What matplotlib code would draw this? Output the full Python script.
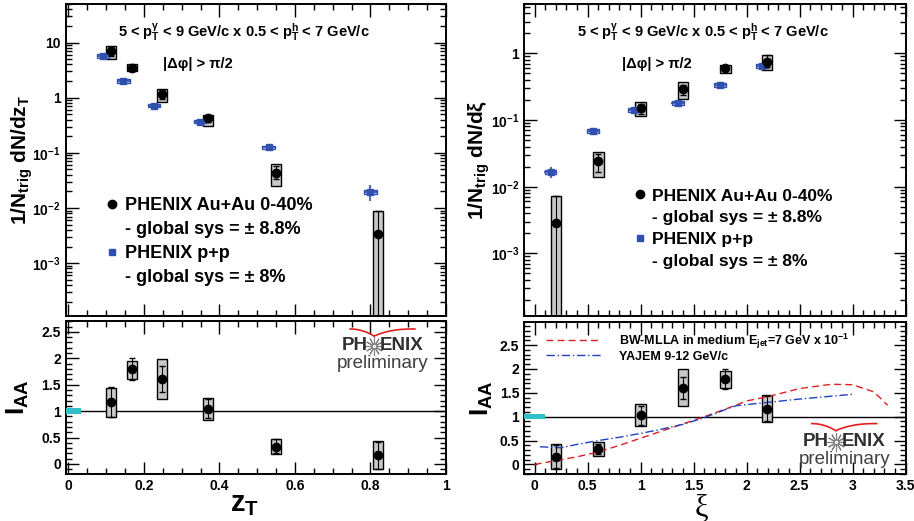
import numpy as np
import matplotlib
matplotlib.use("Agg")
import matplotlib.pyplot as plt
from matplotlib.ticker import MultipleLocator, FuncFormatter, LogLocator, NullFormatter
from matplotlib.lines import Line2D

plt.rcParams['font.family'] = ['Liberation Sans', 'DejaVu Sans']
plt.rcParams['mathtext.fontset'] = 'custom'
plt.rcParams['mathtext.rm'] = 'Liberation Sans'
plt.rcParams['mathtext.it'] = 'Liberation Sans'
plt.rcParams['mathtext.bf'] = 'Liberation Sans:bold'
plt.rcParams['mathtext.default'] = 'regular'

# ---- zT panel data ----
zt_au = np.array([0.114, 0.168, 0.249, 0.370, 0.550, 0.819])
dn_au = np.array([6.9, 3.5, 1.17, 0.42, 0.044, 0.0034])
dn_au_stat_lo = np.array([5.6, 3.1, 0.95, 0.36, 0.033, 1e-6])
dn_au_stat_hi = np.array([8.3, 3.9, 1.40, 0.47, 0.058, 0.0089])
dn_au_sys_lo = np.array([5.0, 3.05, 0.82, 0.31, 0.025, 1e-6])
dn_au_sys_hi = np.array([8.5, 4.05, 1.46, 0.48, 0.062, 0.0089])

zt_pp = np.array([0.092, 0.146, 0.228, 0.349, 0.530, 0.800])
dn_pp = np.array([5.7, 2.0, 0.72, 0.37, 0.125, 0.0195])
dn_pp_lo = np.array([5.3, 1.88, 0.67, 0.345, 0.117, 0.0133])
dn_pp_hi = np.array([6.1, 2.12, 0.77, 0.395, 0.134, 0.026])

iaa_zt = np.array([1.17, 1.80, 1.61, 1.04, 0.33, 0.17])
iaa_zt_stat_lo = np.array([0.88, 1.58, 1.37, 0.87, 0.21, -0.09])
iaa_zt_stat_hi = np.array([1.46, 2.00, 1.85, 1.22, 0.47, 0.42])
iaa_zt_sys_lo = np.array([0.89, 1.61, 1.22, 0.83, 0.19, -0.09])
iaa_zt_sys_hi = np.array([1.44, 1.95, 1.98, 1.25, 0.48, 0.43])

# ---- xi panel data ----
xi_au = np.array([0.2, 0.6, 1.0, 1.4, 1.8, 2.19])
dn_xi_au = np.array([0.0029, 0.024, 0.15, 0.29, 0.60, 0.75])
dn_xi_au_stat_lo = np.array([1e-6, 0.0165, 0.125, 0.24, 0.55, 0.63])
dn_xi_au_stat_hi = np.array([0.0073, 0.031, 0.175, 0.34, 0.65, 0.96])
dn_xi_au_sys_lo = np.array([1e-6, 0.014, 0.115, 0.21, 0.51, 0.56])
dn_xi_au_sys_hi = np.array([0.0073, 0.0335, 0.186, 0.37, 0.67, 0.94])

xi_pp = np.array([0.15, 0.55, 0.94, 1.35, 1.75, 2.145])
dn_xi_pp = np.array([0.0165, 0.069, 0.14, 0.18, 0.335, 0.64])
dn_xi_pp_lo = np.array([0.0135, 0.064, 0.13, 0.168, 0.315, 0.60])
dn_xi_pp_hi = np.array([0.0195, 0.074, 0.15, 0.193, 0.355, 0.68])

iaa_xi = np.array([0.16, 0.33, 1.03, 1.61, 1.79, 1.17])
iaa_xi_stat_lo = np.array([-0.08, 0.22, 0.83, 1.37, 1.57, 0.91])
iaa_xi_stat_hi = np.array([0.40, 0.43, 1.23, 1.84, 2.00, 1.43])
iaa_xi_sys_lo = np.array([-0.10, 0.18, 0.81, 1.22, 1.61, 0.88])
iaa_xi_sys_hi = np.array([0.43, 0.46, 1.26, 1.99, 1.96, 1.45])

bw_xi = np.array([0.0, 0.2, 0.4, 0.6, 0.8, 1.0, 1.2, 1.4, 1.6, 1.8, 2.0, 2.2, 2.5, 2.8, 3.0, 3.2, 3.33])
bw_iaa = np.array([0.0, 0.08, 0.16, 0.26, 0.40, 0.55, 0.70, 0.85, 1.0, 1.16, 1.33, 1.42, 1.59, 1.68, 1.67, 1.52, 1.24])
yajem_xi = np.array([0.05, 0.25, 0.4, 0.6, 0.8, 1.0, 1.2, 1.4, 1.6, 1.8, 1.9, 2.2, 2.5, 2.8, 3.0])
yajem_iaa = np.array([0.37, 0.35, 0.42, 0.50, 0.57, 0.65, 0.74, 0.84, 0.98, 1.15, 1.23, 1.30, 1.37, 1.43, 1.47])

title_txt = r'5 < p$_T^{\gamma}$ < 9 GeV/c x 0.5 < p$_T^h$ < 7 GeV/c'
dphi_txt = '|Δφ| > π/2'
au_lbl = 'PHENIX Au+Au 0-40%'
au_sys = '- global sys = ± 8.8%'
pp_lbl = 'PHENIX p+p'
pp_sys = '- global sys = ± 8%'

gray = '#c8c8c8'
blue = '#3050b0'
lblue = '#c0cdf0'
cyan = '#30c0c8'

fig = plt.figure(figsize=(9.14, 5.21), dpi=100)
W, H = 914, 521


def add_ax(x0, x1, y0, y1):
    return fig.add_axes([x0 / W, 1 - y1 / H, (x1 - x0) / W, (y1 - y0) / H])


ax1 = add_ax(65.7, 446, 4, 316)
ax2 = add_ax(65.7, 446, 320.7, 474)
ax3 = add_ax(524, 905.7, 4, 316)
ax4 = add_ax(524, 905.7, 321.7, 474)


def style(ax):
    ax.tick_params(which='both', direction='in', top=True, right=True, labelsize=10)
    ax.tick_params(which='major', length=9, width=1)
    ax.tick_params(which='minor', length=4.5, width=1)
    for s in ax.spines.values():
        s.set_linewidth(1.4)
    for lab in ax.get_xticklabels() + ax.get_yticklabels():
        lab.set_fontweight('bold')


def logfmt(v, pos):
    e = int(round(np.log10(v)))
    if e == 1:
        return '10'
    if e == 0:
        return '1'
    return r'$\mathbf{10^{%d}}$' % e


def sysbox(ax, x, lo, hi, hw):
    ax.bar(x, hi - lo, bottom=lo, width=2 * hw, color=gray, edgecolor='black', linewidth=1, zorder=2)


def ppbox(ax, x, lo, hi, hw):
    ax.bar(x, hi - lo, bottom=lo, width=2 * hw, color=lblue, edgecolor=blue, linewidth=1, zorder=3)


# ---- top left ----
ax1.set_yscale('log')
sysbox(ax1, zt_au, dn_au_sys_lo, dn_au_sys_hi, 0.013)
ppbox(ax1, zt_pp, dn_pp * 0.93, dn_pp * 1.07, 0.016)
ax1.errorbar(zt_pp, dn_pp, yerr=[dn_pp - dn_pp_lo, dn_pp_hi - dn_pp], xerr=0.016, fmt='s',
             color=blue, ms=4.5, capsize=0, elinewidth=1.2, zorder=4)
ax1.errorbar(zt_au, dn_au, yerr=[dn_au - dn_au_stat_lo, dn_au_stat_hi - dn_au], fmt='o',
             color='black', ms=6, capsize=2, elinewidth=0.8, zorder=5)
ax1.set_xlim(-0.007, 1.0)
ax1.set_ylim(1.1e-4, 50)
ax1.xaxis.set_major_locator(MultipleLocator(0.2))
ax1.xaxis.set_minor_locator(MultipleLocator(0.05))
ax1.xaxis.set_major_formatter(NullFormatter())
ax1.yaxis.set_major_locator(LogLocator(base=10, numticks=10))
ax1.yaxis.set_minor_locator(LogLocator(base=10, subs=np.arange(2, 10), numticks=10))
ax1.yaxis.set_major_formatter(FuncFormatter(logfmt))
ax1.yaxis.set_minor_formatter(NullFormatter())
ax1.set_ylabel(r'1/N$_{trig}$ dN/dz$_T$', fontsize=15, fontweight='bold')
ax1.yaxis.set_label_coords(-0.082, 0.5)
ax1.text(0.468, 0.909, title_txt, transform=ax1.transAxes, ha='center', va='center',
         fontsize=10.5, fontweight='bold')
ax1.text(0.347, 0.808, dphi_txt, transform=ax1.transAxes, ha='center', va='center',
         fontsize=10.5, fontweight='bold')
h_au = Line2D([], [], marker='o', color='black', ls='none', ms=6)
h_pp = Line2D([], [], marker='s', color=blue, ls='none', ms=5)
h_blank = Line2D([], [], ls='none')
ax1.legend([h_au, h_blank, h_pp, h_blank], [au_lbl, au_sys, pp_lbl, pp_sys], loc='upper left',
           bbox_to_anchor=(0.099, 0.38), frameon=False, borderpad=0, borderaxespad=0,
           handlelength=1, handletextpad=0.2, labelspacing=0.38,
           prop={'size': 13, 'weight': 'bold'})
style(ax1)

# ---- bottom left ----
sysbox(ax2, zt_au, iaa_zt_sys_lo, iaa_zt_sys_hi, 0.013)
ax2.errorbar(zt_au, iaa_zt, yerr=[iaa_zt - iaa_zt_stat_lo, iaa_zt_stat_hi - iaa_zt], fmt='o',
             color='black', ms=6, capsize=2, elinewidth=0.8, zorder=5)
ax2.axhline(1, color='black', lw=1, zorder=1)
ax2.bar(0.0135, 0.11, bottom=0.945, width=0.041, color=cyan, zorder=3)
ax2.set_xlim(-0.007, 1.0)
ax2.set_ylim(-0.19, 2.71)
ax2.xaxis.set_major_locator(MultipleLocator(0.2))
ax2.xaxis.set_minor_locator(MultipleLocator(0.05))
ax2.xaxis.set_major_formatter(FuncFormatter(lambda v, p: '%g' % round(v, 2)))
ax2.yaxis.set_major_locator(MultipleLocator(0.5))
ax2.yaxis.set_minor_locator(MultipleLocator(0.1))
ax2.yaxis.set_major_formatter(FuncFormatter(lambda v, p: '%g' % v))
ax2.set_xlabel(r'z$_T$', fontsize=21, fontweight='bold')
ax2.xaxis.set_label_coords(0.47, -0.105)
ax2.set_ylabel(r'I$_{AA}$', fontsize=19, fontweight='bold')
ax2.yaxis.set_label_coords(-0.092, 0.5)
style(ax2)

# ---- top right ----
ax3.set_yscale('log')
sysbox(ax3, xi_au, dn_xi_au_sys_lo, dn_xi_au_sys_hi, 0.05)
ppbox(ax3, xi_pp, dn_xi_pp * 0.93, dn_xi_pp * 1.07, 0.055)
ax3.errorbar(xi_pp, dn_xi_pp, yerr=[dn_xi_pp - dn_xi_pp_lo, dn_xi_pp_hi - dn_xi_pp], xerr=0.06,
             fmt='s', color=blue, ms=4.5, capsize=0, elinewidth=1.2, zorder=4)
ax3.errorbar(xi_au, dn_xi_au, yerr=[dn_xi_au - dn_xi_au_stat_lo, dn_xi_au_stat_hi - dn_xi_au],
             fmt='o', color='black', ms=6, capsize=2, elinewidth=0.8, zorder=5)
ax3.set_xlim(-0.1, 3.5)
ax3.set_ylim(1.15e-4, 5.5)
ax3.xaxis.set_major_locator(MultipleLocator(0.5))
ax3.xaxis.set_minor_locator(MultipleLocator(0.1))
ax3.xaxis.set_major_formatter(NullFormatter())
ax3.yaxis.set_major_locator(LogLocator(base=10, numticks=10))
ax3.yaxis.set_minor_locator(LogLocator(base=10, subs=np.arange(2, 10), numticks=10))
ax3.yaxis.set_major_formatter(FuncFormatter(logfmt))
ax3.yaxis.set_minor_formatter(NullFormatter())
ax3.set_ylabel(r'1/N$_{trig}$ dN/dξ', fontsize=15, fontweight='bold')
ax3.yaxis.set_label_coords(-0.084, 0.5)
ax3.text(0.469, 0.909, title_txt, transform=ax3.transAxes, ha='center', va='center',
         fontsize=10.5, fontweight='bold')
ax3.text(0.348, 0.808, dphi_txt, transform=ax3.transAxes, ha='center', va='center',
         fontsize=10.5, fontweight='bold')
ax3.legend([h_au, h_blank, h_pp, h_blank], [au_lbl, au_sys, pp_lbl, pp_sys], loc='upper left',
           bbox_to_anchor=(0.281, 0.409), frameon=False, borderpad=0, borderaxespad=0,
           handlelength=1, handletextpad=0.2, labelspacing=0.38,
           prop={'size': 12.5, 'weight': 'bold'})
style(ax3)

# ---- bottom right ----
sysbox(ax4, xi_au, iaa_xi_sys_lo, iaa_xi_sys_hi, 0.05)
ax4.errorbar(xi_au, iaa_xi, yerr=[iaa_xi - iaa_xi_stat_lo, iaa_xi_stat_hi - iaa_xi], fmt='o',
             color='black', ms=6, capsize=2, elinewidth=0.8, zorder=5)
ax4.axhline(1, color='black', lw=1, zorder=1)
ax4.bar(0.0, 0.11, bottom=0.945, width=0.2, color=cyan, zorder=3)
l_bw, = ax4.plot(bw_xi, bw_iaa, color='#e02020', ls=(0, (5, 3)), lw=1, zorder=4)
l_ya, = ax4.plot(yajem_xi, yajem_iaa, color='#2040c0', ls=(0, (6, 2, 1, 2)), lw=1, zorder=4)
ax4.legend([l_bw, l_ya], [r'BW-MLLA in medium E$_{jet}$=7 GeV x 10$^{-1}$', 'YAJEM 9-12 GeV/c'],
           loc='upper left', bbox_to_anchor=(0.057, 0.935), frameon=False, borderpad=0,
           borderaxespad=0, handlelength=4.4, handletextpad=1.45, labelspacing=0.0,
           prop={'size': 9, 'weight': 'bold'})
ax4.set_xlim(-0.1, 3.5)
ax4.set_ylim(-0.2, 2.99)
ax4.xaxis.set_major_locator(MultipleLocator(0.5))
ax4.xaxis.set_minor_locator(MultipleLocator(0.1))
ax4.xaxis.set_major_formatter(FuncFormatter(lambda v, p: '%g' % v))
ax4.yaxis.set_major_locator(MultipleLocator(0.5))
ax4.yaxis.set_minor_locator(MultipleLocator(0.1))
ax4.yaxis.set_major_formatter(FuncFormatter(lambda v, p: '%g' % v))
ax4.set_xlabel('ξ', fontsize=22, family='Liberation Serif')
ax4.xaxis.set_label_coords(0.466, -0.125)
ax4.set_ylabel(r'I$_{AA}$', fontsize=19, fontweight='bold')
ax4.yaxis.set_label_coords(-0.076, 0.5)
style(ax4)


# PHENIX preliminary logo
def logo(ax, sx, sy, py, vy):
    ax.text(sx - 0.018, sy, 'PH', transform=ax.transAxes, ha='right', va='center',
            fontsize=13.5, fontweight='bold', color='#303030')
    ax.text(sx + 0.016, sy, 'ENIX', transform=ax.transAxes, ha='left', va='center',
            fontsize=13.5, fontweight='bold', color='#303030')
    ax.plot([sx], [sy], transform=ax.transAxes, marker=(12, 2, 0), ms=13, color='#808080',
            mew=0.8, clip_on=False)
    ax.plot([sx], [sy], transform=ax.transAxes, marker='o', ms=3, color='white',
            mec='#808080', mew=0.6, clip_on=False)
    ax.text(sx + 0.022, py, 'preliminary', transform=ax.transAxes, ha='center', va='center',
            fontsize=13.5, color='#404040')
    u = np.linspace(0, 1, 20)
    ax.plot(sx - 0.063 * u[::-1], vy + 0.046 * (1 - (1 - u[::-1]) ** 2),
            transform=ax.transAxes, color='#e02020', lw=1.2, clip_on=False)
    ax.plot(sx + 0.107 * u, vy + 0.046 * (1 - (1 - u) ** 2.5),
            transform=ax.transAxes, color='#e02020', lw=1.2, clip_on=False)


logo(ax2, 0.811, 0.835, 0.718, 0.90)
logo(ax4, 0.817, 0.212, 0.097, 0.285)

fig.savefig('out.png', dpi=100)
